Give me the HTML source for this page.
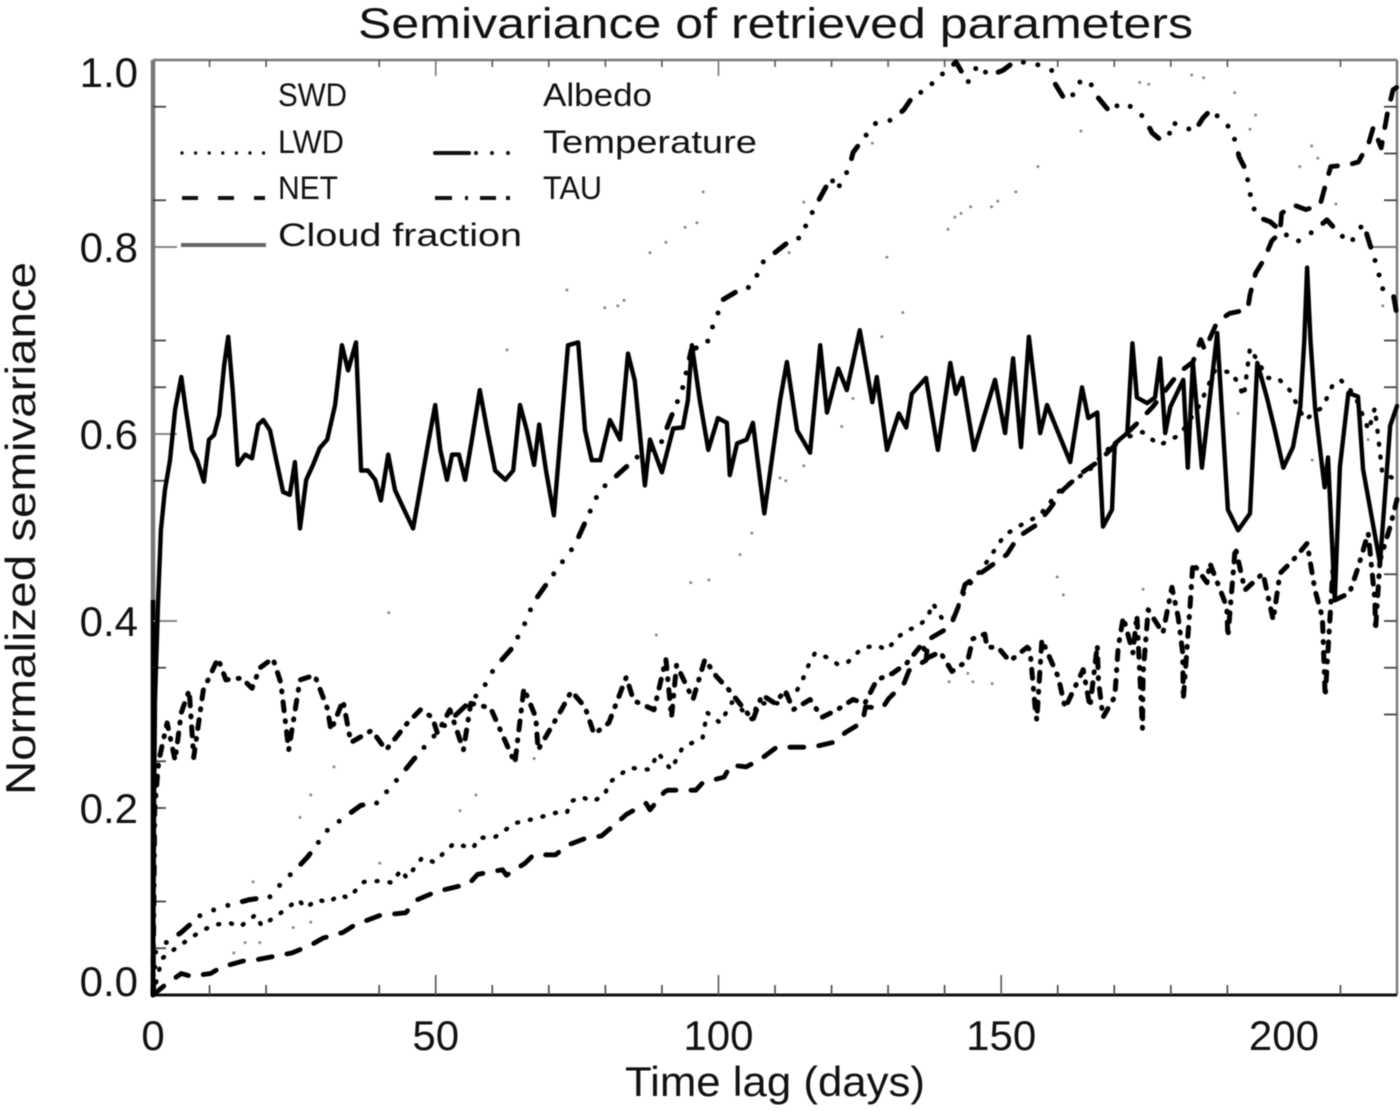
<!DOCTYPE html>
<html lang="en">
<head>
<meta charset="utf-8">
<title>Semivariance of retrieved parameters</title>
<style>
html,body{margin:0;padding:0;background:#fff;width:1400px;height:1111px;overflow:hidden}
svg{display:block;filter:blur(0.6px)}
text{font-family:"Liberation Sans",sans-serif;fill:#111}
</style>
</head>
<body>
<svg id="chart" xmlns="http://www.w3.org/2000/svg" width="1400" height="1111" viewBox="0 0 1400 1111">
  <rect x="0" y="0" width="1400" height="1111" fill="#fff"/>
  <text x="358" y="38" font-size="43" textLength="835" lengthAdjust="spacingAndGlyphs">Semivariance of retrieved parameters</text>
  <text transform="translate(35,795) rotate(-90)" font-size="42" textLength="533" lengthAdjust="spacingAndGlyphs">Normalized semivariance</text>
  <text x="625" y="1096" font-size="42" textLength="300" lengthAdjust="spacingAndGlyphs">Time lag (days)</text>
  <g id="axes"></g>
  <g id="series"></g>
  <g>
    <text x="278" y="106" font-size="32" textLength="69" lengthAdjust="spacingAndGlyphs">SWD</text>
    <text x="278" y="153" font-size="32" textLength="66" lengthAdjust="spacingAndGlyphs">LWD</text>
    <text x="278" y="199" font-size="32" textLength="60" lengthAdjust="spacingAndGlyphs">NET</text>
    <text x="278" y="246" font-size="32" textLength="244" lengthAdjust="spacingAndGlyphs">Cloud fraction</text>
    <text x="543" y="106" font-size="32" textLength="109" lengthAdjust="spacingAndGlyphs">Albedo</text>
    <text x="543" y="153" font-size="32" textLength="214" lengthAdjust="spacingAndGlyphs">Temperature</text>
    <text x="543" y="199" font-size="32" textLength="59" lengthAdjust="spacingAndGlyphs">TAU</text>
    <line x1="182" y1="153" x2="265" y2="153" stroke="#111" stroke-width="3.4" stroke-linecap="round" stroke-dasharray="0 13.6"/>
    <line x1="182" y1="198" x2="265" y2="198" stroke="#111" stroke-width="4" stroke-dasharray="16 20"/>
    <line x1="181" y1="245" x2="266" y2="245" stroke="#666" stroke-width="4"/>
    <line x1="435" y1="153" x2="522" y2="153" stroke="#111" stroke-width="4" stroke-linecap="round" stroke-dasharray="34 7 0 16 0 16 0 14"/>
    <line x1="435" y1="198" x2="510" y2="198" stroke="#111" stroke-width="4" stroke-dasharray="17 13 3 12 16 10 4 10"/>
  </g>
</svg>
<script>
// ---- axis tick values ----
const xTickLabels = [0, 50, 100, 150, 200];
const yTickLabels = [0.0, 0.2, 0.4, 0.6, 0.8, 1.0];
const xBottomMinor = [10, 20, 40, 60, 70, 80, 90, 110, 120, 130, 140, 160, 170, 180, 190, 210];
const xBottomMajor = [50, 100, 150];
const xTopMinor = [10, 20, 40, 60, 70, 80, 90, 110, 120, 130, 140, 160, 170, 180, 190, 210];
const xTopMajor = [50, 100];
const yLeftMinor = [0.05, 0.1, 0.2, 0.25, 0.35, 0.55, 0.65, 0.7, 0.85, 0.95];
const yLeftMajor = [0.4, 0.6, 0.8];
const yRightMinor = [0.3, 0.35, 0.4, 0.45, 0.7, 0.65, 0.85, 0.9, 0.95];
const yRightMajor = [0.8];

// ---- series: lag (days) and normalized semivariance ----
const cloudLag = [0,0.2,0.35,0.9,1.4,2.1,3,3.9,5,5.8,6.9,7.8,9,9.9,10.8,11.7,12.6,13.3,14.1,15,16.3,17.5,18.6,19.5,20.7,21.8,23,24.2,25.1,26,27.1,28.3,29.5,30.8,32.2,33.4,34.5,35.9,36.8,38,39.3,40.3,41.6,42.8,44.4,46,47.2,48.6,49.9,50.8,52,52.9,54.1,55.2,56.4,57.8,59.1,60.5,62.3,63.7,64.9,66.1,67.4,68.3,69.5,70.9,72.3,73.4,75.2,76.4,77.6,79.1,80.8,82.6,84,85.2,87,87.9,90,92,93.7,94.6,95.3,96.7,98.2,99.9,101.5,102,103.3,105,106.1,108.1,110.9,112.1,113.9,116.2,118,119.2,121.2,122.7,125,127.2,128,129.8,131.9,133.2,134.2,136.7,138.8,141,142,143.1,145.2,148.9,150.7,152.1,153.5,154.9,156.9,158.1,162.2,164.3,165.4,167,168,169.6,170.1,172.3,173.2,174,175.8,177.2,178.1,179,179.9,182.2,183,183.9,185.5,188.2,190.1,191.9,194,195.3,197,198.4,199.9,201.6,202.9,203.6,204.1,204.7,205.5,207.2,207.8,209,209.9,211.4,213.1,214,217,218.8,220];
const cloudValues = [0,0.21,0.316,0.422,0.497,0.54,0.572,0.626,0.661,0.626,0.583,0.572,0.549,0.594,0.599,0.62,0.674,0.704,0.647,0.567,0.578,0.574,0.61,0.615,0.604,0.572,0.538,0.535,0.57,0.499,0.551,0.567,0.585,0.594,0.631,0.695,0.668,0.698,0.561,0.561,0.551,0.529,0.578,0.54,0.519,0.499,0.54,0.588,0.631,0.583,0.551,0.578,0.578,0.551,0.594,0.647,0.604,0.561,0.551,0.561,0.631,0.604,0.567,0.61,0.561,0.513,0.615,0.695,0.698,0.604,0.572,0.572,0.615,0.594,0.686,0.657,0.545,0.594,0.559,0.606,0.607,0.636,0.695,0.636,0.583,0.617,0.612,0.556,0.59,0.594,0.612,0.515,0.636,0.677,0.604,0.58,0.695,0.623,0.67,0.647,0.711,0.634,0.661,0.583,0.622,0.607,0.643,0.66,0.583,0.676,0.643,0.66,0.583,0.658,0.601,0.681,0.586,0.704,0.601,0.631,0.57,0.65,0.617,0.623,0.501,0.519,0.59,0.601,0.697,0.639,0.633,0.639,0.681,0.601,0.629,0.658,0.564,0.676,0.564,0.708,0.519,0.497,0.515,0.676,0.639,0.604,0.564,0.586,0.629,0.7,0.778,0.7,0.629,0.543,0.575,0.422,0.565,0.644,0.64,0.562,0.462,0.609,0.63];

const tempLag = [0,0.5,1.6,5,8.5,12.1,17.1,20.7,22.5,25.7,27.4,30.8,33.6,36.8,39.5,42,43.8,46.8,50.3,58.2,60.3,63.5,65.8,67.3,72,74.6,79,80.8,86.1,89.7,91.6,92.7,93.7,95.2,98,98.7,99.7,100.6,103.1,105.2,106.7,107.7,110,112.3,114.8,115.5,116.6,118,119.9,121,122,123.1,123.8,125.9,127.7,129.5,131.2,132.8,134.6,137.1,138.5,140.3,142,144.1,145.9,147.9,150.3,152.1,154.9,157.4,159.2,159.5,161.3,163.2,164.1,165.7,167.1,169.3,171,173.5,175.3,176.7,177.9,179.7,180,182.1,184.1,185.7,187.1,188.9,190.7,191.5,192.1,193.3,194,194.4,195.4,197.6,199.3,202.2,204.3,205.5,207.6,210,211.8,213.2,214.1,215,216.1,216.8,217.2,219.3,220];
const tempValues = [0,0.048,0.053,0.067,0.086,0.094,0.102,0.105,0.118,0.137,0.148,0.176,0.189,0.203,0.205,0.222,0.235,0.257,0.281,0.326,0.349,0.371,0.398,0.42,0.46,0.481,0.54,0.549,0.578,0.588,0.618,0.634,0.65,0.69,0.697,0.711,0.725,0.743,0.752,0.756,0.768,0.783,0.794,0.805,0.811,0.824,0.837,0.853,0.874,0.861,0.873,0.884,0.901,0.918,0.932,0.933,0.938,0.947,0.963,0.968,0.982,0.987,0.998,0.976,0.995,0.983,0.989,0.997,0.998,0.993,0.988,0.975,0.957,0.965,0.979,0.976,0.96,0.944,0.954,0.949,0.938,0.922,0.916,0.918,0.933,0.93,0.923,0.938,0.947,0.936,0.926,0.911,0.896,0.882,0.858,0.845,0.832,0.827,0.818,0.805,0.813,0.818,0.829,0.813,0.804,0.818,0.825,0.807,0.786,0.771,0.756,0.751,0.727];

const netLag = [0,2,5,6.7,10.2,12.1,16.4,18.5,22.9,24.6,27.8,30.1,33.6,35.7,40.1,44.7,46.8,50.3,52.5,55.9,57.4,61.8,62.5,65.8,67.3,71.2,73.2,76.7,79.3,82.2,83.7,87.2,87.9,90.4,91,96,97.2,101,102.2,104.9,107.4,110.3,112.1,116.6,120.2,122.5,125.5,126,129,130.1,132.8,133.7,136.7,137.1,141,142.4,143.6,146.8,151,153,156.3,158.7,160.9,164.4,167.5,170.1,173.8,176.8,181.5,183.9,185.3,186,188.2,190.4,193.6,194,195,196.4,197.9,199.3,199.6,201.7,203.9,206.4,207.6,208.3,211.5,213.2,215,215.8,217.2,218.3,219.3,220];
const netValues = [0,0.01,0.023,0.02,0.023,0.03,0.037,0.038,0.043,0.045,0.053,0.061,0.067,0.075,0.085,0.088,0.102,0.111,0.114,0.119,0.129,0.134,0.128,0.141,0.15,0.15,0.16,0.168,0.17,0.185,0.193,0.205,0.198,0.217,0.219,0.219,0.227,0.233,0.246,0.244,0.252,0.265,0.265,0.265,0.27,0.281,0.292,0.308,0.307,0.317,0.333,0.347,0.358,0.38,0.394,0.415,0.439,0.453,0.471,0.49,0.503,0.521,0.54,0.559,0.572,0.588,0.61,0.629,0.666,0.677,0.701,0.69,0.72,0.729,0.733,0.749,0.772,0.786,0.807,0.815,0.836,0.845,0.84,0.845,0.872,0.886,0.888,0.891,0.911,0.928,0.906,0.943,0.968,0.971];

const lwdLag = [0,1.6,4,7.4,10.6,13.6,15.4,18.2,19.2,22.2,25.7,27,29,31.1,32.9,34.6,37.3,40.3,42.4,43.8,44.9,47.6,49.7,53.2,56.6,57.6,60.5,64.1,67.8,71.3,73.2,73.9,75.7,77.8,79.9,80.6,84.3,87.9,89.3,91.6,93.7,97.2,98,100.3,102.4,103.8,106.1,106.8,110.4,112.1,113.9,115,115.8,117.1,119.7,121.2,122.9,125.4,128,129.8,131.6,133.3,135.3,137,137.9,139.5,141.5,143.6,147.1,150.6,153.6,156.8,160.4,163,165.7,168.3,171,175,178,181.6,185.1,187.8,190.8,191.8,192.9,194,197.1,198.9,201,203.7,206.9,208.6,210,212.5,215,216.1,217.4,220];
const lwdValues = [0,0.039,0.05,0.064,0.075,0.077,0.073,0.086,0.074,0.086,0.102,0.093,0.102,0.099,0.107,0.104,0.121,0.122,0.12,0.134,0.125,0.147,0.142,0.162,0.157,0.168,0.169,0.184,0.189,0.195,0.195,0.207,0.212,0.207,0.214,0.227,0.243,0.241,0.259,0.241,0.265,0.275,0.302,0.291,0.313,0.307,0.294,0.312,0.312,0.323,0.326,0.339,0.351,0.366,0.36,0.353,0.356,0.371,0.374,0.369,0.382,0.39,0.394,0.404,0.419,0.403,0.403,0.433,0.46,0.492,0.503,0.513,0.54,0.551,0.562,0.581,0.594,0.602,0.588,0.599,0.631,0.668,0.666,0.655,0.64,0.692,0.66,0.66,0.647,0.615,0.629,0.652,0.658,0.642,0.604,0.628,0.558,0.551];

const tauLag = [0,0.3,1,2.5,3.9,5,6.4,7.2,8.9,11.5,12.9,15.7,17.5,18.9,21.2,22.6,24,26,28.6,30.8,31.5,33.6,35,38.7,41.2,45,47.3,49.4,50.3,52.5,54.9,56.2,59.7,64,65.6,67.7,68.1,72.4,74,76.4,78,80.6,83.7,85,88.6,90.7,91.7,92.6,95.5,97.6,99.6,101.9,106.1,107.7,110,111.8,113.2,116.2,118.3,121,123.8,125.9,128,130.8,133.3,136.1,136.8,139.2,141.3,144.1,145,147.1,147.5,149.4,151.5,154.6,155.1,156,156.3,157.2,159,160.1,161.3,164.5,165.7,167,167.2,168,170.1,170.7,171.6,173.3,174,175,175.1,176,178.6,180.2,181.3,182.1,182.2,183.4,183.9,186.4,186.9,189.9,190.1,191.4,193.1,196.3,198.1,199.3,201.6,204.1,205.5,206.8,207.3,208.7,208.9,211.6,213,214.9,216.1,216.2,217,218.8,220];
const tauValues = [0,0.2,0.25,0.291,0.251,0.302,0.326,0.254,0.326,0.36,0.337,0.339,0.328,0.35,0.36,0.334,0.262,0.337,0.342,0.307,0.283,0.315,0.27,0.283,0.262,0.291,0.305,0.297,0.28,0.305,0.262,0.312,0.307,0.248,0.328,0.297,0.262,0.307,0.325,0.308,0.279,0.291,0.34,0.315,0.305,0.359,0.297,0.353,0.316,0.359,0.341,0.326,0.294,0.321,0.312,0.326,0.305,0.316,0.297,0.305,0.316,0.312,0.337,0.344,0.355,0.376,0.36,0.367,0.346,0.358,0.381,0.386,0.372,0.372,0.357,0.372,0.369,0.308,0.294,0.38,0.355,0.34,0.307,0.348,0.308,0.374,0.337,0.297,0.319,0.372,0.404,0.366,0.406,0.285,0.344,0.412,0.387,0.436,0.404,0.366,0.316,0.415,0.462,0.441,0.462,0.415,0.383,0.479,0.433,0.451,0.401,0.451,0.465,0.483,0.433,0.404,0.319,0.458,0.422,0.43,0.455,0.494,0.422,0.39,0.465,0.501,0.53];

const albedoLag = [62.6,73.2,79.9,82.2,83.3,87.9,90.7,94.1,96.2,97.3,112.5,115.1,127.2,128.9,129.8,132.6,140.6,141.8,142.9,144.6,148.3,149.4,152.6,156.5,164.1,174.5,176.1,183.7,185.8,191.3,194,195,202.8,204.9,206,209.2,217.5];
const albedoValues = [0.69,0.754,0.735,0.737,0.743,0.794,0.805,0.821,0.826,0.859,0.794,0.848,0.911,0.704,0.789,0.73,0.819,0.832,0.836,0.843,0.843,0.849,0.859,0.886,0.924,0.976,0.974,0.984,0.981,0.965,0.926,0.941,0.886,0.908,0.895,0.846,0.737];

const swdLag = [14.3,16.3,18.9,17.7,24.8,27.9,26,27.9,32,40.1,41.7,54.3,57.1,67.4,89,95.1,98.3,103.8,105.9,110.9,111.9,115.1,121.8,123.8,140.8,144.1,145,148.4,159.9,161,175.1,191.9,205,214.9];
const swdValues = [0.045,0.056,0.056,0.121,0.072,0.078,0.19,0.214,0.244,0.141,0.409,0.197,0.214,0.253,0.385,0.441,0.444,0.471,0.494,0.553,0.55,0.566,0.608,0.638,0.335,0.344,0.335,0.333,0.447,0.428,0.434,0.622,0.572,0.594];

// ---- axis functions ----
const plotLeft = 153, plotRight = 1397, plotTop = 60, plotBottom = 995;
const xMax = 220;
function xScale(d){ return plotLeft + (plotRight - plotLeft) * d / xMax; }
function yScale(v){ return plotBottom - (plotBottom - plotTop) * v; }

const NS = 'http://www.w3.org/2000/svg';
const axes = document.getElementById('axes');
const seriesGroup = document.getElementById('series');

function tickLine(x1, y1, x2, y2, color, w){
  const l = document.createElementNS(NS, 'line');
  l.setAttribute('x1', x1);
  l.setAttribute('y1', y1);
  l.setAttribute('x2', x2);
  l.setAttribute('y2', y2);
  l.setAttribute('stroke', color);
  l.setAttribute('stroke-width', w);
  
  
  axes.appendChild(l);
}

// frame
const frameSegments = [
  [plotLeft, plotTop, plotRight, plotTop, '#777', 2.4, 'top-axis'],
  [plotRight, plotTop, plotRight, plotBottom, '#777', 2.4, 'right-axis'],
  [plotLeft, plotTop, plotLeft, plotBottom, '#777', 4.5, 'left-axis'],
  [plotLeft, 600, plotLeft, plotBottom, '#000', 4.5, 'left-axis-lower'],
  [plotLeft, plotBottom, plotRight, plotBottom, '#111', 3, 'bottom-axis']
];
frameSegments.forEach(function(s){
  const l = document.createElementNS(NS, 'line');
  l.setAttribute('x1', s[0]);
  l.setAttribute('y1', s[1]);
  l.setAttribute('x2', s[2]);
  l.setAttribute('y2', s[3]);
  l.setAttribute('stroke', s[4]);
  l.setAttribute('stroke-width', s[5]);
  
  
  axes.appendChild(l);
});

xBottomMinor.forEach(function(d){ tickLine(xScale(d), plotBottom, xScale(d), plotBottom - 10, '#444', 1.6); });
xBottomMajor.forEach(function(d){ tickLine(xScale(d), plotBottom, xScale(d), plotBottom - 20, '#555', 1.6); });
xTopMinor.forEach(function(d){ tickLine(xScale(d), plotTop, xScale(d), plotTop + 7, '#555', 1.6); });
xTopMajor.forEach(function(d){ tickLine(xScale(d), plotTop, xScale(d), plotTop + 16, '#777', 1.6); });
yLeftMinor.forEach(function(v){ tickLine(plotLeft, yScale(v), plotLeft + 13, yScale(v), '#444', 1.8); });
yLeftMajor.forEach(function(v){ tickLine(plotLeft, yScale(v), plotLeft + 24, yScale(v), '#777', 1.8); });
yRightMinor.forEach(function(v){ tickLine(plotRight, yScale(v), plotRight - 13, yScale(v), '#444', 1.8); });
yRightMajor.forEach(function(v){ tickLine(plotRight, yScale(v), plotRight - 24, yScale(v), '#777', 2); });

xTickLabels.forEach(function(d){
  const t = document.createElementNS(NS, 'text');
  t.setAttribute('x', xScale(d));
  t.setAttribute('y', 1050);
  t.setAttribute('font-size', '42');
  t.setAttribute('text-anchor', 'middle');
  
  
  t.textContent = String(d);
  axes.appendChild(t);
});
yTickLabels.forEach(function(v){
  const t = document.createElementNS(NS, 'text');
  t.setAttribute('x', 138);
  const base = v === 0 ? yScale(v) + 1 : (v === 1 ? yScale(v) + 27 : yScale(v) + 15);
  t.setAttribute('y', base);
  t.setAttribute('font-size', '42');
  t.setAttribute('text-anchor', 'end');
  
  
  t.textContent = v.toFixed(1);
  axes.appendChild(t);
});

function drawLine(name, lags, values, dash, width, cap){
  const p = document.createElementNS(NS, 'polyline');
  p.setAttribute('points', lags.map(function(d, i){ return xScale(d).toFixed(1) + ',' + yScale(values[i]).toFixed(1); }).join(' '));
  p.setAttribute('fill', 'none');
  p.setAttribute('stroke', '#000');
  p.setAttribute('stroke-width', width);
  p.setAttribute('stroke-linejoin', 'round');
  p.setAttribute('stroke-linecap', cap);
  if (dash) p.setAttribute('stroke-dasharray', dash);
  
  
  seriesGroup.appendChild(p);
}

function drawFaint(name, lags, values){
  lags.forEach(function(d, i){
    const c = document.createElementNS(NS, 'circle');
    c.setAttribute('cx', xScale(d));
    c.setAttribute('cy', yScale(values[i]));
    c.setAttribute('r', 1.5);
    c.setAttribute('fill', '#888');
    
    
    seriesGroup.appendChild(c);
  });
}

drawFaint('swd-point', swdLag, swdValues);
drawFaint('albedo-point', albedoLag, albedoValues);
drawLine('lwd-line', lwdLag, lwdValues, '1 12', 4.4, 'round');
drawLine('net-line', netLag, netValues, '14 15', 4.8, 'round');
drawLine('temperature-line', tempLag, tempValues, '14 14 0 15 0 15 0 15', 5, 'round');
drawLine('tau-line', tauLag, tauValues, '9 10 1 10', 5, 'round');
drawLine('cloud-fraction-line', cloudLag, cloudValues, null, 4.4, 'round');
</script>
</body>
</html>
